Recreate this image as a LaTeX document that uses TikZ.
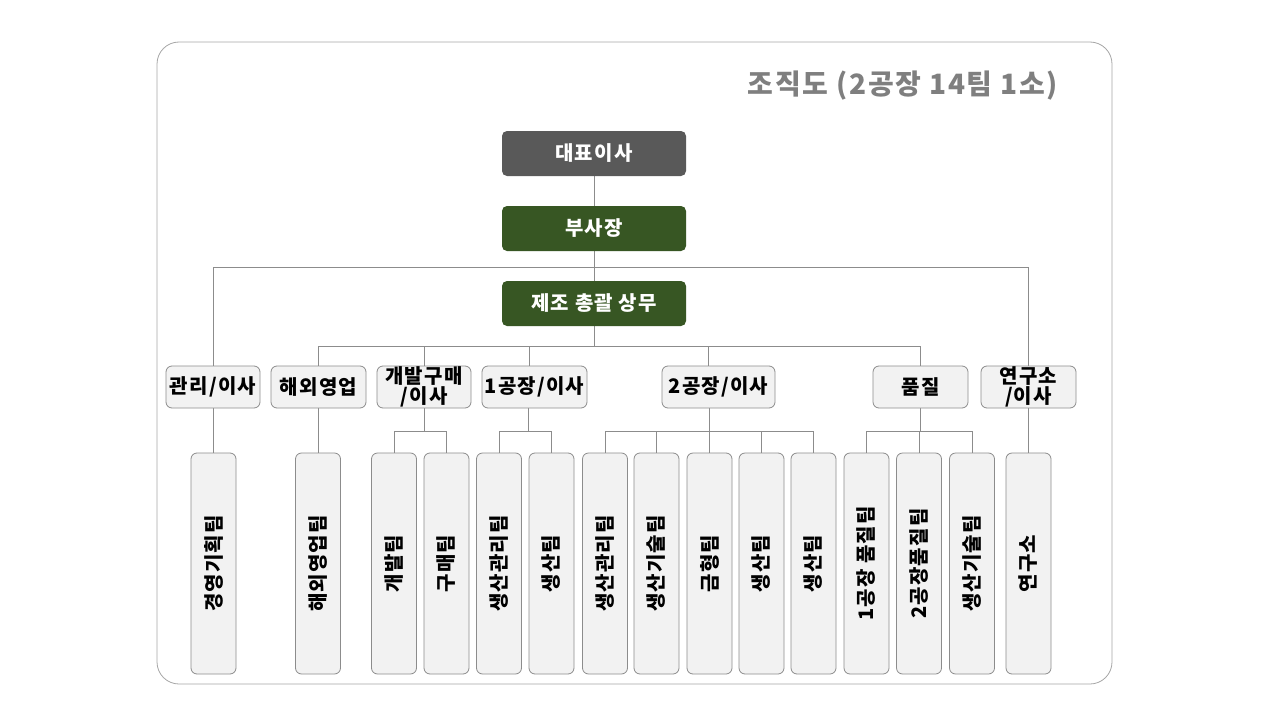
\documentclass[tikz,border=0pt]{standalone}
\usepackage{fontspec}
\newfontfamily\kr{Noto Sans CJK KR}[LetterSpace=6]
\usetikzlibrary{backgrounds}
\definecolor{frameG}{HTML}{A6A6A6}
\definecolor{lineG}{HTML}{8C8C8C}
\definecolor{boxB}{HTML}{8C8C8C}
\definecolor{boxF}{HTML}{F2F2F2}
\definecolor{topG}{HTML}{595959}
\definecolor{topGreen}{HTML}{375623}
\definecolor{titleG}{HTML}{7F7F7F}
\tikzset{
  topbox/.style={draw=none, rounded corners=5pt, minimum width=184pt, minimum height=45pt,
    inner sep=0pt, text=white, font=\kr\bfseries\fontsize{20}{21}\selectfont},
  midbox/.style={draw=boxB, fill=boxF, line width=0.8pt, rounded corners=6pt, minimum height=42pt,
    inner sep=0pt, align=center, font=\kr\bfseries\fontsize{20}{20.5}\selectfont},
  teambox/.style={draw=boxB, fill=boxF, line width=0.8pt, rounded corners=6pt, rotate=90,
    minimum width=221pt, minimum height=45pt, inner sep=0pt, font=\kr\bfseries\fontsize{20}{21}\selectfont},
  conn/.style={draw=lineG, line width=0.8pt}
}
\begin{document}
\begin{tikzpicture}[x=1pt,y=-1pt]
\useasboundingbox (0,0) rectangle (1280,720);
% title
\node[text=titleG, font=\kr\bfseries\fontsize{28}{29}\selectfont] (title) at (903,86) {조직도 (2공장 14팀 1소)};
% top
\node[topbox, fill=topG] (ceo) at (594,153.5) {대표이사};
\node[topbox, fill=topGreen] (vp) at (594,228.5) {부사장};
\node[topbox, fill=topGreen] (md) at (594,303.5) {제조 총괄 상무};
% level 2
\node[midbox, minimum width=94pt] (gw) at (213,387) {관리/이사};
\node[midbox, minimum width=95pt] (hw) at (318.5,387) {해외영업};
\node[midbox, minimum width=94pt] (gb) at (424,387) {개발구매\\/이사};
\node[midbox, minimum width=105pt] (f1) at (534.5,387) {1공장/이사};
\node[midbox, minimum width=113pt] (f2) at (718.5,387) {2공장/이사};
\node[midbox, minimum width=95pt] (pj) at (920.5,387) {품질};
\node[midbox, minimum width=95pt] (ys) at (1028.5,387) {연구소\\/이사};
% teams
\node[teambox] (t1) at (213.5,563.5) {경영기획팀};
\node[teambox] (t2) at (318,563.5) {해외영업팀};
\node[teambox] (t3) at (394,563.5) {개발팀};
\node[teambox] (t4) at (446.5,563.5) {구매팀};
\node[teambox] (t5) at (499,563.5) {생산관리팀};
\node[teambox] (t6) at (551.5,563.5) {생산팀};
\node[teambox] (t7) at (605,563.5) {생산관리팀};
\node[teambox] (t8) at (656.5,563.5) {생산기술팀};
\node[teambox] (t9) at (709.5,563.5) {금형팀};
\node[teambox] (t10) at (761.5,563.5) {생산팀};
\node[teambox] (t11) at (813.5,563.5) {생산팀};
\node[teambox] (t12) at (866.5,563.5) {1공장 품질팀};
\node[teambox] (t13) at (919,563.5) {2공장품질팀};
\node[teambox] (t14) at (972,563.5) {생산기술팀};
\node[teambox] (t15) at (1028.5,563.5) {연구소};
\begin{pgfonlayer}{background}
\draw[draw=frameG, line width=0.8pt, fill=white, rounded corners=22pt] (157,42) rectangle (1112,684);
\coordinate (busA) at (594,267);
\coordinate (busB) at (594,346);
\draw[conn] (ceo) -- (vp);
\draw[conn] (vp) -- (md);
\draw[conn] (busA) -| (gw.north);
\draw[conn] (busA) -| (ys.north);
\draw[conn] (md.south) -- (busB);
\draw[conn] (busB) -| (hw.north);
\draw[conn] (busB) -| (gb.north);
\draw[conn] (busB) -| ([xshift=-5pt]f1.north);
\draw[conn] (busB) -| ([xshift=-10pt]f2.north);
\draw[conn] (busB) -| (pj.north);
\draw[conn] (gw.south) -- (gw.south |- t1.east);
\draw[conn] (hw.south) -- (hw.south |- t2.east);
\draw[conn] (ys.south) -- (ys.south |- t15.east);
% sub buses
\draw[conn] (gb.south) -- ++(0,23) coordinate (gbb);
\draw[conn] (t3.east) |- (gbb) -| (t4.east);
\draw[conn] ([xshift=-6pt]f1.south) -- ++(0,23) coordinate (f1b);
\draw[conn] (t5.east) |- (f1b) -| (t6.east);
\draw[conn] ([xshift=-9pt]f2.south) -- ++(0,23) coordinate (f2b);
\draw[conn] (t7.east) |- (f2b) -| (t11.east);
\draw[conn] (t8.east) -- (t8.east |- f2b);
\draw[conn] (t9.east) -- (t9.east |- f2b);
\draw[conn] (t10.east) -- (t10.east |- f2b);
\draw[conn] (pj.south) -- ++(0,23) coordinate (pjb);
\draw[conn] (t12.east) |- (pjb) -| (t14.east);
\draw[conn] (t13.east) -- (t13.east |- pjb);
\end{pgfonlayer}
\end{tikzpicture}
\end{document}
